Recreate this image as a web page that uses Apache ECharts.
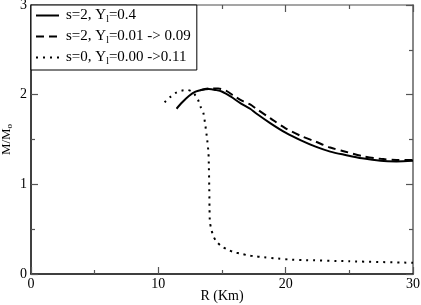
<!DOCTYPE html>
<html>
<head>
<meta charset="utf-8">
<script src="https://cdn.jsdelivr.net/npm/echarts@6/dist/echarts.min.js"></script>
<style>html,body{margin:0;padding:0;background:#fff;}#c{width:421px;height:305px;}</style>
</head>
<body>
<div id="c"></div>
<script>
var seriesNames = ['s=2, Y_l=0.4', 's=2, Y_l=0.01 -> 0.09', 's=0, Y_l=0.00 ->0.11'];
var xTicks = [0, 10, 20, 30];
var yTicks = [0, 1, 2, 3];
var solidData = [[11.43,1.843],[11.88,1.915],[12.4,1.985],[12.92,2.033],[13.45,2.055],[13.97,2.063],[14.5,2.052],[15.02,2.033],[15.67,1.98],[16.5,1.90],[17.24,1.84],[17.64,1.795],[18.81,1.68],[19.99,1.576],[21.2,1.49],[22.35,1.42],[23.5,1.365],[24.7,1.327],[26.0,1.29],[27.45,1.262],[28.7,1.256],[30,1.263]];
var dashedData = [[13.3,2.05],[14.0,2.068],[14.7,2.068],[15.3,2.045],[15.9,1.99],[16.6,1.93],[17.24,1.888],[17.64,1.848],[18.81,1.736],[19.99,1.625],[21.2,1.54],[22.35,1.476],[23.5,1.41],[24.7,1.364],[26.0,1.315],[27.45,1.284],[28.7,1.272],[30,1.27]];
var dottedData = [[10.49,1.915],[10.88,1.966],[11.3,2.015],[11.8,2.044],[12.3,2.052],[12.7,2.03],[13.1,1.948],[13.3,1.87],[13.53,1.80],[13.7,1.65],[13.84,1.494],[13.94,1.346],[13.97,1.19],[14.0,0.96],[14.02,0.728],[14.05,0.577],[14.16,0.50],[14.31,0.425],[14.57,0.36],[14.96,0.309],[15.46,0.271],[15.99,0.241],[16.48,0.226],[17.03,0.208],[17.56,0.197],[18.11,0.19],[19.15,0.175],[20.25,0.162],[21.3,0.156],[25,0.142],[30,0.125]];

var FONT = 'Liberation Serif';
var chart = echarts.init(document.getElementById('c'), null, {renderer: 'canvas'});
function sub(s){ return s.replace('Y_l', 'Y{sub|l}'); }
var richSub = {sub: {fontSize: 10, fontFamily: FONT, color: '#000', verticalAlign: 'bottom', padding: [7, 0, 0, 0]}};
function ticks(){ return {show: true, inside: true, length: 7, lineStyle: {color: '#555', width: 1.2}}; }
function minor(){ return {show: true, splitNumber: 2, length: 4, lineStyle: {color: '#555', width: 1.2}}; }
var option = {
  animation: false,
  backgroundColor: '#fff',
  grid: {left: 31, right: 8, top: 5, bottom: 31, containLabel: false, outerBoundsMode: 'none'},
  legend: {
    left: 31, top: 5, orient: 'vertical',
    data: seriesNames,
    backgroundColor: '#fff', borderColor: '#000', borderWidth: 1, borderRadius: 0,
    padding: [3, 6, 4, 4], itemGap: 5, itemWidth: 23, itemHeight: 14,
    itemStyle: {color: 'rgba(0,0,0,0)', borderWidth: 0, opacity: 0},
    formatter: function(n){ return sub(n); },
    textStyle: {fontFamily: FONT, fontSize: 15, color: '#000', padding: [0, 0, 0, 2], rich: richSub}
  },
  xAxis: [
    {
      type: 'value', position: 'bottom', min: xTicks[0], max: xTicks[xTicks.length-1], interval: 10,
      axisLine: {onZero: false, lineStyle: {color: '#000', width: 1.5}},
      axisTick: ticks(), minorTick: minor(), splitLine: {show: false},
      axisLabel: {fontFamily: FONT, fontSize: 14, color: '#000', margin: 3},
      name: 'R (Km)', nameLocation: 'middle', nameGap: 15, nameMoveOverlap: false,
      nameTextStyle: {fontFamily: FONT, fontSize: 14, color: '#000'}
    },
    {
      type: 'value', position: 'top', min: 0, max: 30, interval: 10,
      axisLine: {onZero: false, lineStyle: {color: '#888', width: 1.5}},
      axisTick: ticks(), minorTick: minor(), splitLine: {show: false},
      axisLabel: {show: false}
    }
  ],
  yAxis: [
    {
      type: 'value', position: 'left', min: yTicks[0], max: yTicks[yTicks.length-1], interval: 1,
      axisLine: {onZero: false, lineStyle: {color: '#000', width: 1.5}},
      axisTick: ticks(), minorTick: minor(), splitLine: {show: false},
      axisLabel: {fontFamily: FONT, fontSize: 14, color: '#000', margin: 4},
      name: 'M/M{sub|o}', nameLocation: 'middle', nameGap: 17, nameRotate: 90, nameMoveOverlap: false,
      nameTextStyle: {fontFamily: FONT, fontSize: 13, color: '#000', rich: {sub: {fontSize: 9, fontFamily: FONT, color: '#000', verticalAlign: 'bottom', padding: [6, 0, 0, 0]}}}
    },
    {
      type: 'value', position: 'right', min: 0, max: 3, interval: 1,
      axisLine: {onZero: false, lineStyle: {color: '#888', width: 2}},
      axisTick: ticks(), minorTick: minor(), splitLine: {show: false},
      axisLabel: {show: false}
    }
  ],
  series: [
    {name: seriesNames[0], type: 'line', data: solidData, showSymbol: false, symbol: 'none', smooth: 0.3,
     lineStyle: {color: '#000', width: 2, type: 'solid'}, itemStyle: {color: '#000'}},
    {name: seriesNames[1], type: 'line', data: dashedData, showSymbol: false, symbol: 'none', smooth: 0.3,
     lineStyle: {color: '#000', width: 2, type: [8, 5]}, itemStyle: {color: '#000'}},
    {name: seriesNames[2], type: 'line', data: dottedData, showSymbol: false, symbol: 'none', smooth: 0.2,
     lineStyle: {color: '#000', width: 2, type: [2, 5]}, itemStyle: {color: '#000'}}
  ]
};
chart.setOption(option);
</script>
</body>
</html>
